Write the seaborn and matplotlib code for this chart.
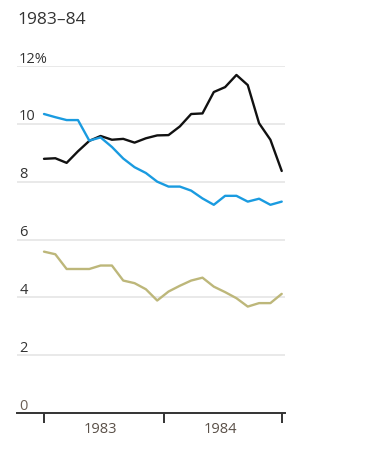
import numpy as np
import pandas as pd
import seaborn as sns
import matplotlib.pyplot as plt
from matplotlib import transforms

black = [8.79, 8.81, 8.65, 9.05, 9.41, 9.58, 9.45, 9.48, 9.35, 9.50, 9.60,
         9.61, 9.91, 10.34, 10.36, 11.10, 11.27, 11.69, 11.34, 10.02, 9.45, 8.37]
blue = [10.34, 10.23, 10.13, 10.13, 9.42, 9.53, 9.20, 8.80, 8.50, 8.30, 8.00,
        7.83, 7.83, 7.69, 7.42, 7.20, 7.51, 7.51, 7.31, 7.41, 7.20, 7.31]
olive = [5.58, 5.49, 4.98, 4.98, 4.98, 5.10, 5.10, 4.58, 4.49, 4.28, 3.89,
         4.20, 4.40, 4.58, 4.68, 4.37, 4.18, 3.97, 3.68, 3.80, 3.80, 4.12]
y_ticks = [0, 2, 4, 6, 8, 10, 12]
y_labels = ['0', '2', '4', '6', '8', '10', '12%']
years = ['1983', '1984']

period = np.arange(len(black))
df = pd.DataFrame({
    'period': np.tile(period, 3),
    'value': black + blue + olive,
    'series': ['black'] * len(black) + ['blue'] * len(blue) + ['olive'] * len(olive),
})

sns.set_style('white')
plt.rcParams['font.family'] = ['Open Sans', 'DejaVu Sans']

fig = plt.figure(figsize=(3.84, 4.51), dpi=100)
ax = fig.add_axes([17 / 384, 1 - 413 / 451, 268 / 384, 347 / 451])

palette = {'black': '#111111', 'blue': '#1a9be0', 'olive': '#bdb77a'}
sns.lineplot(data=df, x='period', y='value', hue='series', palette=palette,
             linewidth=1.7, legend=False, ax=ax)

ax.set_ylim(0, 12)
ax.set_xlim(-2.385, 21.29)
ax.set_xlabel('')
ax.set_ylabel('')

# gridlines + labels sitting just above them
for t in y_ticks[1:]:
    ax.axhline(t, color='#e3e3e3', lw=1.1, zorder=0)
trans = transforms.blended_transform_factory(ax.transAxes, ax.transData)
for t, lab in zip(y_ticks, y_labels):
    ax.text(0.008, t + 0.12, lab, transform=trans, ha='left', va='baseline',
            fontsize=10.5, color='#6b5f56' if t == 0 else '#333333')
ax.set_yticks([])

# x axis: year boundary ticks and centred year labels
ax.set_xticks([0, 10.6, 21])
ax.set_xticklabels([])
ax.tick_params(axis='x', bottom=True, direction='out', length=7, width=1.4,
               color='#333333', pad=0)
for x, lab in zip([4.95, 15.55], years):
    ax.text(x, -0.3, lab, ha='center', va='top', fontsize=10.5, color='#5a5048')

sns.despine(ax=ax, left=True, top=True, right=True)
ax.spines['bottom'].set_color('#333333')
ax.spines['bottom'].set_linewidth(1.4)

fig.text(17 / 384, 1 - 20 / 451, '1983\u201384', ha='left', va='center',
         fontsize=12.5, color='#333333')

fig.savefig('out.png', dpi=100)
